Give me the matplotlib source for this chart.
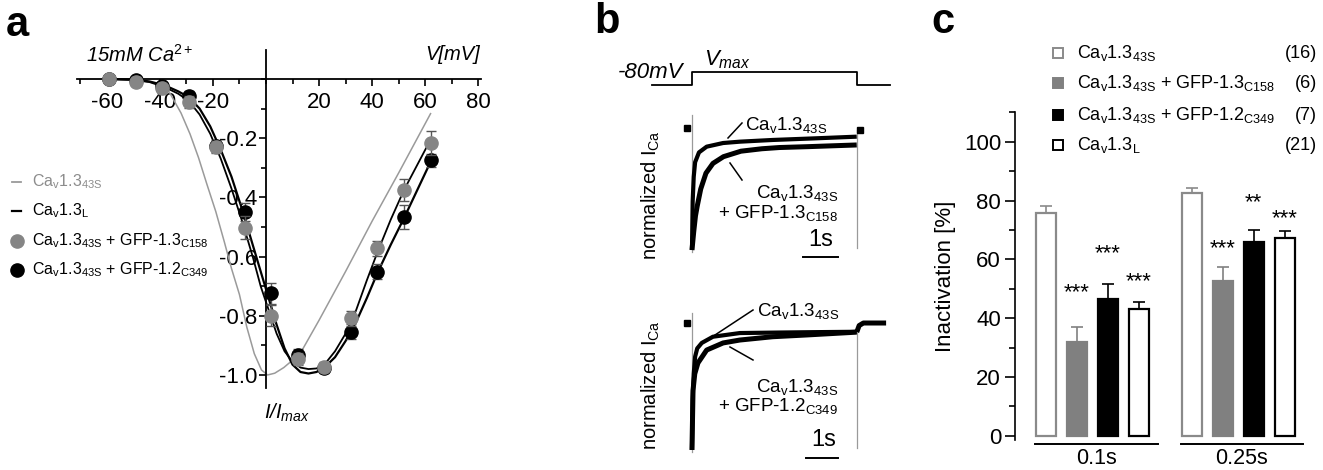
import numpy as np
import matplotlib
matplotlib.use("Agg")
import matplotlib.pyplot as plt
from matplotlib.lines import Line2D

plt.rcParams["font.family"] = ["Liberation Sans", "DejaVu Sans"]
plt.rcParams["mathtext.fontset"] = "custom"
plt.rcParams["mathtext.rm"] = "Liberation Sans"
plt.rcParams["mathtext.it"] = "Liberation Sans:italic"
plt.rcParams["mathtext.bf"] = "Liberation Sans:bold"
plt.rcParams["mathtext.default"] = "regular"
plt.rcParams["axes.unicode_minus"] = False

W, H = 1323, 470

# ---- data: panel a (I-V) -------------------------------------------------
volt = [-59, -49, -39, -29, -19, -8, 2, 12, 22, 32, 42, 52, 62]
i_c158 = [0.0, -0.009, -0.031, -0.077, -0.229, -0.502, -0.80, -0.947, -0.972, -0.809, -0.572, -0.375, -0.217]
e_c158 = [0.01, 0.015, 0.015, 0.02, 0.02, 0.04, 0.035, 0.02, 0.015, 0.025, 0.025, 0.037, 0.04]
i_c349 = [0.0, -0.005, -0.024, -0.056, -0.225, -0.449, -0.724, -0.932, -0.977, -0.854, -0.651, -0.467, -0.274]
e_c349 = [0.01, 0.01, 0.015, 0.015, 0.02, 0.03, 0.035, 0.02, 0.015, 0.025, 0.025, 0.04, 0.022]

fit43s_v = [-60, -50, -40, -37, -32, -28.6, -25.4, -22.2, -18.9, -15.7, -13, -10, -7.2, -4.4, -1.7,
            0.6, 3.3, 6.7, 10, 14, 20, 30, 40, 50, 62]
fit43s_i = [0, -0.003, -0.015, -0.035, -0.115, -0.186, -0.266, -0.357, -0.448, -0.55, -0.64, -0.728,
            -0.839, -0.928, -0.983, -1.0, -0.994, -0.975, -0.95, -0.91, -0.815, -0.65, -0.48, -0.317, -0.117]
fitL_v = [-60, -50, -44, -38, -33, -29, -25, -21, -17, -13, -9, -5, -2, 1, 4, 7, 10, 13, 16, 19, 22,
          26, 30, 34, 38, 42, 47, 52, 57, 62]
fitL_i = [0, -0.002, -0.008, -0.022, -0.042, -0.062, -0.1, -0.16, -0.24, -0.33, -0.44, -0.56, -0.65,
          -0.74, -0.83, -0.91, -0.965, -0.99, -0.995, -0.99, -0.975, -0.94, -0.885, -0.82, -0.74,
          -0.655, -0.56, -0.47, -0.375, -0.28]
fitB_i = [0, -0.003, -0.01, -0.028, -0.05, -0.075, -0.12, -0.185, -0.27, -0.37, -0.48, -0.6, -0.7,
          -0.78, -0.86, -0.92, -0.955, -0.975, -0.98, -0.978, -0.965, -0.92, -0.86, -0.78, -0.68,
          -0.585, -0.475, -0.375, -0.29, -0.205]

# ---- data: panel b (normalized current traces, time in s) ------------------
prot_t = [-1.14, 0, 0, 4.71, 4.71, 5.66]
prot_v = [0, 0, 1, 1, 0, 0]
t43_top = [0, 0.02, 0.05, 0.09, 0.2, 0.42, 0.89, 1.37, 2.31, 3.5, 4.71]
i43_top = [-1, -0.6, -0.4, -0.28, -0.2, -0.153, -0.123, -0.112, -0.098, -0.085, -0.071]
t158 = [0, 0.05, 0.1, 0.15, 0.25, 0.4, 0.6, 0.9, 1.4, 2.0, 2.5, 3.3, 4.0, 4.71]
i158 = [-1.0, -0.85, -0.72, -0.64, -0.5, -0.37, -0.29, -0.235, -0.19, -0.17, -0.16, -0.153, -0.146, -0.139]
t43_bot = [0, 0.02, 0.05, 0.09, 0.15, 0.28, 0.6, 1.37, 2.5, 3.5, 4.71]
i43_bot = [-1, -0.6, -0.4, -0.265, -0.2, -0.157, -0.108, -0.079, -0.075, -0.072, -0.069]
t349 = [0, 0.03, 0.08, 0.17, 0.42, 0.89, 1.37, 2.31, 3.29, 4.71]
i349 = [-1, -0.53, -0.4, -0.315, -0.213, -0.157, -0.134, -0.108, -0.094, -0.072]
tail_t = [4.71, 4.78, 4.9, 5.55]
tail_i = [-0.072, -0.02, 0.0, 0.0]

# ---- data: panel c (inactivation) ----------------------------------------
groups = ["0.1s", "0.25s"]
inact_01 = [75.9, 32.0, 46.4, 43.0]
err_01 = [2.4, 5.1, 5.1, 2.4]
inact_025 = [82.4, 52.7, 66.0, 67.4]
err_025 = [2.0, 4.8, 4.0, 2.4]
stars_01 = ["", "***", "***", "***"]
stars_025 = ["", "***", "**", "***"]
star_y01 = [0, 50.7, 63.8, 54.4]
star_y025 = [0, 65.5, 81.3, 75.9]
n_cells = ["(16)", "(6)", "(7)", "(21)"]
c_labels = [r"Ca$_\mathrm{v}$1.3$_\mathrm{43S}$",
            r"Ca$_\mathrm{v}$1.3$_\mathrm{43S}$ + GFP-1.3$_\mathrm{C158}$",
            r"Ca$_\mathrm{v}$1.3$_\mathrm{43S}$ + GFP-1.2$_\mathrm{C349}$",
            r"Ca$_\mathrm{v}$1.3$_\mathrm{L}$"]
c_face = ["white", "#808080", "black", "white"]
c_edge = ["#8a8a8a", "#808080", "black", "black"]

fig = plt.figure(figsize=(W / 100, H / 100), dpi=100)


def ax_px(x0, y0, x1, y1):
    return fig.add_axes([x0 / W, 1 - y1 / H, (x1 - x0) / W, (y1 - y0) / H])


def txt(x, y, s, **kw):
    return fig.text(x / W, 1 - y / H, s, **kw)


def seg(x0, y0, x1, y1, **kw):
    fig.add_artist(Line2D([x0 / W, x1 / W], [1 - y0 / H, 1 - y1 / H], transform=fig.transFigure, **kw))


# ===================== panel a =====================
ax = ax_px(76.7, 50, 481, 388.3)
ax.set_xlim(-71.3, 81)
ax.set_ylim(-1.045, 0.098)
for s in ["top", "right"]:
    ax.spines[s].set_visible(False)
ax.spines["left"].set_position(("data", 0))
ax.spines["bottom"].set_position(("data", 0))
ax.spines["left"].set_linewidth(1.3)
ax.spines["bottom"].set_linewidth(1.3)
ax.set_xticks([-60, -40, -20, 20, 40, 60, 80])
ax.set_xticks(np.arange(-70, 81, 10), minor=True)
ax.set_yticks([-1.0, -0.8, -0.6, -0.4, -0.2])
ax.set_yticks(np.arange(-1.0, 0.05, 0.1), minor=True)
ax.set_yticklabels(["-1.0", "-0.8", "-0.6", "-0.4", "-0.2"])
ax.tick_params(axis="both", which="major", labelsize=16, length=5, width=1.2, direction="out")
ax.tick_params(axis="both", which="minor", length=3.5, width=1.2, direction="out")
ax.tick_params(axis="x", pad=4)
ax.tick_params(axis="y", pad=1)

ax.plot(fit43s_v, fit43s_i, color="#9a9a9a", lw=1.1, zorder=2)
ax.plot(fitL_v, fitL_i, color="black", lw=1.6, zorder=3)
ax.plot(fitL_v, fitB_i, color="black", lw=1.3, zorder=3)
ax.errorbar(volt, i_c349, yerr=e_c349, fmt="o", color="black", ms=9.5, ecolor="#555555",
            elinewidth=1, capsize=3.5, zorder=4)
ax.errorbar(volt, i_c158, yerr=e_c158, fmt="o", color="#858585", ms=9.5, ecolor="#555555",
            elinewidth=1, capsize=3.5, zorder=5)

txt(86, 55, r"15mM Ca$^{\mathit{2+}}$", fontsize=14.5, style="italic", va="center", ha="left")
txt(480, 55, "V[mV]", fontsize=14.5, style="italic", va="center", ha="right")
txt(287, 413, r"I/I$_{\mathit{max}}$", fontsize=14.5, style="italic", va="center", ha="center")

# legend a
leg_a = [r"Ca$_\mathrm{v}$1.3$_\mathrm{43S}$", r"Ca$_\mathrm{v}$1.3$_\mathrm{L}$",
         r"Ca$_\mathrm{v}$1.3$_\mathrm{43S}$ + GFP-1.3$_\mathrm{C158}$",
         r"Ca$_\mathrm{v}$1.3$_\mathrm{43S}$ + GFP-1.2$_\mathrm{C349}$"]
leg_y = [182, 211, 241, 270]
seg(12, leg_y[0], 21, leg_y[0], color="#9a9a9a", lw=1.3)
seg(12, leg_y[1], 21, leg_y[1], color="black", lw=1.6)
fig.add_artist(Line2D([17 / W], [1 - leg_y[2] / H], marker="o", ms=9.5, color="#858585",
                      transform=fig.transFigure))
fig.add_artist(Line2D([17 / W], [1 - leg_y[3] / H], marker="o", ms=9.5, color="black",
                      transform=fig.transFigure))
for k, (lab, yy) in enumerate(zip(leg_a, leg_y)):
    txt(32, yy, lab, fontsize=11.5, va="center", ha="left",
        color="#8c8c8c" if k == 0 else "black")

# ===================== panel b =====================
tl = (-1.2, 5.69)
axp = ax_px(650, 60, 891, 92)
axp.plot(prot_t, prot_v, color="black", lw=1.3)
axp.set_xlim(*tl)
axp.set_ylim(-0.54, 1.92)
axp.axis("off")
txt(651, 72, "-80mV", fontsize=16, style="italic", va="center", ha="center")
txt(727, 60, r"$\mathit{V_{max}}$", fontsize=16, va="center", ha="center")

axt = ax_px(650, 110, 891, 262)
axb = ax_px(650, 298, 891, 468)
axt.set_ylim(-1.098, 0.1475)
axb.set_ylim(-1.142, 0.197)
for a in (axt, axb):
    a.set_xlim(*tl)
    a.axis("off")

axt.plot([0, 0], [0.107, -1.02], color="#9a9a9a", lw=0.9)
axt.plot([4.71, 4.71], [-0.016, -0.98], color="#9a9a9a", lw=0.9)
axt.plot(t158, i158, color="black", lw=3.6, solid_capstyle="butt")
axt.plot(t43_top, i43_top, color="black", lw=3.0, solid_capstyle="butt")
axt.plot([-0.14], [0.0], marker="s", ms=4.5, color="black")
axt.plot([4.8], [-0.015], marker="s", ms=4.5, color="black")
axt.plot([3.17, 4.17], [-1.057, -1.057], color="black", lw=1.4)
axt.text(3.67, -0.918, "1s", fontsize=17, ha="center", va="center")

axb.plot([0, 0], [0.079, -1.016], color="#9a9a9a", lw=0.9)
axb.plot([4.71, 4.71], [-0.079, -0.984], color="#9a9a9a", lw=0.9)
axb.plot(t349, i349, color="black", lw=3.6, solid_capstyle="butt")
axb.plot(t43_bot, i43_bot, color="black", lw=3.0, solid_capstyle="butt")
axb.plot(tail_t, tail_i, color="black", lw=3.6, solid_capstyle="butt")
axb.plot([-0.14], [0.0], marker="s", ms=4.5, color="black")
axb.plot([3.27, 4.17], [-1.063, -1.063], color="black", lw=1.4)
axb.text(3.77, -0.921, "1s", fontsize=17, ha="center", va="center")

lab43 = r"Ca$_\mathrm{v}$1.3$_\mathrm{43S}$"
txt(745, 125, lab43, fontsize=13.5, va="center", ha="left")
seg(728, 138, 742, 123, color="black", lw=1.1)
txt(838, 193, lab43, fontsize=13.5, va="center", ha="right")
txt(838, 213, r"+ GFP-1.3$_\mathrm{C158}$", fontsize=13.5, va="center", ha="right")
seg(730, 163, 742, 180, color="black", lw=1.1)
txt(757, 311, lab43, fontsize=13.5, va="center", ha="left")
seg(715, 335, 753, 310, color="black", lw=1.1)
txt(838, 387, lab43, fontsize=13.5, va="center", ha="right")
txt(838, 406, r"+ GFP-1.2$_\mathrm{C349}$", fontsize=13.5, va="center", ha="right")
seg(730, 347, 753, 360, color="black", lw=1.1)
txt(651, 195, r"normalized I$_\mathrm{Ca}$", fontsize=14.5, rotation=90, va="center", ha="center")
txt(651, 385, r"normalized I$_\mathrm{Ca}$", fontsize=14.5, rotation=90, va="center", ha="center")

# ===================== panel c =====================
axc = ax_px(1015, 111.7, 1310, 440)
axc.set_xlim(-1.0, 8.52)
axc.set_ylim(-1.4, 110.2)
for s in ["top", "right", "bottom"]:
    axc.spines[s].set_visible(False)
axc.spines["left"].set_linewidth(1.2)
axc.set_xticks([])
axc.set_yticks(np.arange(0, 101, 20))
axc.set_yticks(np.arange(0, 111, 10), minor=True)
axc.tick_params(axis="y", which="major", labelsize=16, length=7, width=1.2, pad=3)
axc.tick_params(axis="y", which="minor", length=4, width=1.2)
axc.set_ylabel("Inactivation [%]", fontsize=16, labelpad=6)

width = 0.645
offsets = [0.0, 4.7]
for g, (vals, errs, stars, sy) in enumerate([(inact_01, err_01, stars_01, star_y01),
                                             (inact_025, err_025, stars_025, star_y025)]):
    xs = offsets[g] + np.arange(4)
    for k in range(4):
        axc.bar(xs[k], vals[k], width=width, color=c_face[k], edgecolor=c_edge[k], linewidth=1.6, zorder=3)
        axc.errorbar(xs[k], vals[k], yerr=[[0], [errs[k]]], fmt="none", ecolor=c_edge[k],
                     elinewidth=1.2, capsize=4, capthick=1.2, zorder=2)
        if stars[k]:
            axc.text(xs[k], sy[k] - 3.8, stars[k], fontsize=16, ha="center", va="baseline")
    axc.plot([xs[0] - 0.355, xs[3] + 0.6], [-2.7, -2.7], color="black", lw=1.4, clip_on=False)
    axc.text((xs[0] + xs[3]) / 2 + 0.12, -7.6, groups[g], fontsize=15.5, ha="center", va="center",
             clip_on=False)

leg_cy = [53, 83, 115, 145]
for k in range(4):
    fig.add_artist(Line2D([1058 / W], [1 - leg_cy[k] / H], marker="s", ms=7, mfc=c_face[k],
                          mec=c_edge[k], mew=1.4, transform=fig.transFigure))
    txt(1077, leg_cy[k], c_labels[k], fontsize=13, va="center", ha="left")
    txt(1317, leg_cy[k], n_cells[k], fontsize=13, va="center", ha="right")

# panel letters
txt(17, 25, "a", fontsize=30, fontweight="bold", va="center", ha="center")
txt(607, 22, "b", fontsize=30, fontweight="bold", va="center", ha="center")
txt(943, 22, "c", fontsize=30, fontweight="bold", va="center", ha="center")

fig.savefig("out.png", dpi=100)
